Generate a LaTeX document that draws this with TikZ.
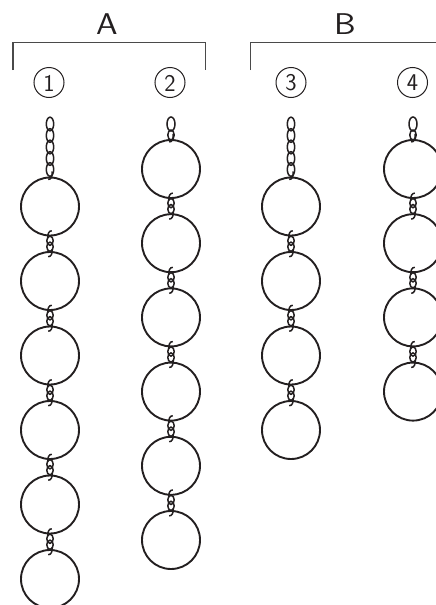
\documentclass[tikz,border=0pt]{standalone}
\usepackage{fontspec}
\definecolor{ink}{HTML}{231F20}
\definecolor{brkc}{HTML}{4A4A4A}
\begin{document}
\begin{tikzpicture}[x=1pt,y=-1pt,
  ring/.style={line width=1.9pt, draw=ink},
  lnk/.style={line width=1.5pt, draw=ink},
  brk/.style={line width=1.1pt, draw=brkc},
  numc/.style={line width=1pt, draw=ink},
  num/.style={inner sep=0pt, font=\sffamily\fontsize{24}{24}\selectfont, text=ink},
  grp/.style={font=\sffamily\fontsize{30}{30}\selectfont, text=ink, inner sep=0pt},
  conn/.pic={
    \draw[lnk] (1.8,-13) .. controls (-1,-13) and (-2.6,-10) .. (-2.2,-5.5);
    \draw[lnk] (0,-3) ellipse [x radius=3.2, y radius=4.6];
    \draw[lnk] (0,3) ellipse [x radius=3.2, y radius=4.6];
    \draw[lnk] (2.2,5.5) .. controls (2.6,10) and (1,13) .. (-1.8,13);
  },
  tophook/.pic={
    \draw[lnk] (2.2,-6) .. controls (2.6,-1) and (1,2) .. (-1.8,2);
  },
  longchain/.pic={
    \foreach \yy in {-53.5,-42,-30.5,-19,-8}
      \draw[lnk] (0,\yy) ellipse [x radius=3.7, y radius=6.8];
    \pic {tophook};
  },
  shortchain/.pic={
    \draw[lnk] (0,-16) ellipse [x radius=4, y radius=7];
    \draw[lnk] (0,-5) ellipse [x radius=3.2, y radius=5];
    \pic {tophook};
  }
]
\useasboundingbox (0,0) rectangle (436,605);
\clip (0,0) rectangle (436,605);

% group labels and brackets
\node[grp] (labA) at (107,24) {\scalebox{1.15}[1]{A}};
\node[grp] (labB) at (345,24) {\scalebox{1.15}[1]{B}};
\draw[brk] (13,70) -- (13,42.7) -- (205.7,42.7) -- (205.7,70);
\draw[brk] (250.7,70) -- (250.7,42.7) -- (440,42.7);

% circled numbers
\node[num] (n1) at (49,83) {1};
\node[num] (n2) at (170,83) {2};
\node[num] (n3) at (291,83) {3};
\node[num] (n4) at (412.5,83) {4};
\draw[numc] (49,82.5) circle [radius=15];
\draw[numc] (170,82.5) circle [radius=15];
\draw[numc] (291,82.5) circle [radius=15];
\draw[numc] (412.5,82.5) circle [radius=15];

% column 1
\pic at (50,177.5) {longchain};
\foreach \k in {0,...,5} {
  \draw[ring] (50,206.5+74.5*\k) circle [radius=29];
}
\foreach \k in {0,...,4} {
  \pic at (50,206.5+74.5*\k+37.25) {conn};
}

% column 2
\pic at (171,140) {shortchain};
\foreach \k in {0,...,5} {
  \draw[ring] (171,169+74.2*\k) circle [radius=29];
}
\foreach \k in {0,...,4} {
  \pic at (171,169+74.2*\k+37.1) {conn};
}

% column 3
\pic at (291,177.5) {longchain};
\foreach \k in {0,...,3} {
  \draw[ring] (291,206.5+74.5*\k) circle [radius=29];
}
\foreach \k in {0,...,2} {
  \pic at (291,206.5+74.5*\k+37.25) {conn};
}

% column 4
\pic at (413,140) {shortchain};
\foreach \k in {0,...,3} {
  \draw[ring] (413,169+74.2*\k) circle [radius=29];
}
\foreach \k in {0,...,2} {
  \pic at (413,169+74.2*\k+37.1) {conn};
}
\end{tikzpicture}
\end{document}
